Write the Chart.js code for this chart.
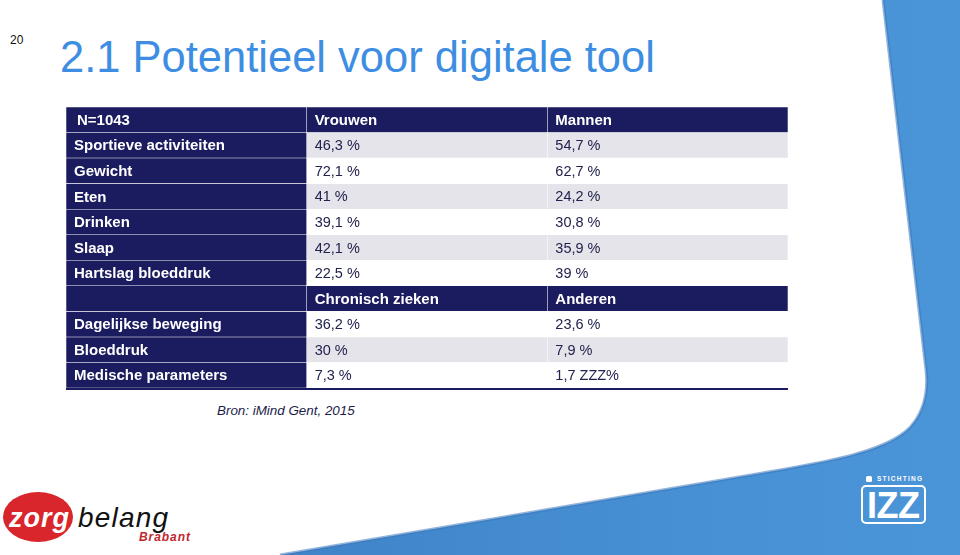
<!DOCTYPE html>
<html>
<head>
<meta charset="utf-8">
<script src="https://cdn.jsdelivr.net/npm/chart.js@4.4.1/dist/chart.umd.min.js"></script>
<style>
    html, body { margin: 0; padding: 0; }
    body {
        width: 960px;
        height: 555px;
        position: relative;
        overflow: hidden;
        background: #ffffff;
        font-family: "Liberation Sans", Arial, sans-serif;
    }
    #deco { position: absolute; left: 0; top: 0; }
    #pagenr {
        position: absolute; left: 10px; top: 33px;
        font-size: 12px; color: #111;
    }
    #title {
        position: absolute; left: 60px; top: 32px;
        font-size: 43.5px; line-height: 50px; color: #3d8ee2;
        white-space: nowrap;
    }
    #tableWrap { position: absolute; left: 66px; top: 107px; }
    #bron {
        position: absolute; left: 217px; top: 403px;
        font-size: 13.4px; font-style: italic; color: #1c1c4a;
    }
</style>
</head>
<body>
<svg id="deco" width="960" height="555">
    <defs>
        <linearGradient id="blueFill" x1="0" y1="0" x2="1" y2="0">
            <stop offset="0" stop-color="#3f83c8"/>
            <stop offset="0.6" stop-color="#4790d3"/>
            <stop offset="1" stop-color="#4a95d8"/>
        </linearGradient>
    </defs>
    <path d="M883,0 L960,0 L960,555 L280,555 L780,470 C830,461 880,452 905,432 C922,418 929,395 926,370 Z"
          fill="url(#blueFill)"/>
    <path d="M883,0 L926,370 C929,395 922,418 905,432 C880,452 830,461 780,470 L280,555"
          fill="none" stroke="#3a76bb" stroke-width="3" opacity="0.55"/>
    <!-- zorgbelang logo -->
    <ellipse cx="38" cy="517" rx="35" ry="25" fill="#d9252c"/>
    <text x="9" y="527" font-family="Liberation Sans" font-weight="bold" font-style="italic"
          font-size="27" fill="#ffffff" textLength="60">zorg</text>
    <text x="78" y="527" font-family="Liberation Sans" font-style="italic"
          font-size="28" fill="#111111" textLength="90">belang</text>
    <text x="139" y="541" font-family="Liberation Sans" font-weight="bold" font-style="italic"
          font-size="12" fill="#c2272d" textLength="51">Brabant</text>
    <!-- IZZ logo -->
    <rect x="866" y="476" width="6" height="6" rx="1.5" fill="#ffffff"/>
    <text x="877" y="481" font-family="Liberation Sans" font-weight="bold"
          font-size="6.5" fill="#ffffff" textLength="45">STICHTING</text>
    <rect x="862" y="486" width="63" height="37" rx="4" fill="none" stroke="#ffffff" stroke-width="2"/>
    <text x="867" y="518" font-family="Liberation Sans" font-weight="bold"
          font-size="36" fill="#ffffff" textLength="53">IZZ</text>
</svg>

<div id="pagenr">20</div>
<div id="title">2.1 Potentieel voor digitale tool</div>
<div id="tableWrap"><canvas id="tableChart" width="722" height="284"></canvas></div>
<div id="bron">Bron: iMind Gent, 2015</div>

<script>
const headerA = ["N=1043", "Vrouwen", "Mannen"];
const sectionA = ["Sportieve activiteiten", "Gewicht", "Eten", "Drinken", "Slaap", "Hartslag bloeddruk"];
const vrouwen = [46.3, 72.1, 41, 39.1, 42.1, 22.5];
const mannen = [54.7, 62.7, 24.2, 30.8, 35.9, 39];

const headerB = ["", "Chronisch zieken", "Anderen"];
const sectionB = ["Dagelijkse beweging", "Bloeddruk", "Medische parameters"];
const chronisch = [36.2, 30, 7.3];
const anderen = [23.6, 7.9, 1.7];
const anderenUnits = [" %", " %", " ZZZ%"];

const NAVY = "#1b1b5f";
const GREY = "#e4e4ea";
const TEXT = "#22224e";

const pct = (v, unit = " %") => String(v).replace(".", ",") + unit;

// build the rows of the table from the small arrays above
const rows = [];
rows.push({ cells: headerA, header: true });
sectionA.forEach((label, i) => {
    rows.push({ cells: [label, pct(vrouwen[i]), pct(mannen[i])], header: false });
});
rows.push({ cells: headerB, header: true });
sectionB.forEach((label, i) => {
    rows.push({ cells: [label, pct(chronisch[i]), pct(anderen[i], anderenUnits[i])], header: false });
});

const rowLabels = rows.map((r) => r.cells[0]);

function cellColor(row, rowIndex, col) {
    if (col === 0 || row.header) return NAVY;
    return rowIndex % 2 === 1 ? GREY : "#ffffff";
}

const datasets = [0, 1, 2].map((col) => ({
    data: rows.map(() => [col, col + 1]),
    backgroundColor: rows.map((r, i) => cellColor(r, i, col)),
    borderColor: rows.map((r, i) =>
        col === 0 || r.header ? "rgba(255,255,255,0.05)" : "rgba(0,0,0,0)"
    ),
    borderWidth: 0.6,
    borderSkipped: false,
    grouped: false,
    barPercentage: 1,
    categoryPercentage: 1,
}));

const cellText = {
    id: "cellText",
    afterDatasetsDraw(chart) {
        const { ctx, chartArea } = chart;
        const xs = chart.scales.x;
        const ys = chart.scales.y;
        ctx.save();
        ctx.textBaseline = "middle";
        rows.forEach((row, i) => {
            const y = ys.getPixelForValue(i) + 1;
            row.cells.forEach((txt, col) => {
                if (!txt) return;
                const bold = col === 0 || row.header;
                ctx.font = (bold ? "bold 15px " : "14.5px ") + "'Liberation Sans', Arial, sans-serif";
                ctx.fillStyle = bold ? "#ffffff" : TEXT;
                const pad = i === 0 && col === 0 ? 11 : 8;
                ctx.fillText(txt, xs.getPixelForValue(col) + pad, y);
            });
        });
        // bottom rule under the table
        ctx.strokeStyle = NAVY;
        ctx.lineWidth = 2;
        ctx.beginPath();
        ctx.moveTo(chartArea.left, chartArea.bottom + 1);
        ctx.lineTo(chartArea.right, chartArea.bottom + 1);
        ctx.stroke();
        ctx.restore();
    },
};

new Chart(document.getElementById("tableChart"), {
    type: "bar",
    data: { labels: rowLabels, datasets: datasets },
    options: {
        indexAxis: "y",
        responsive: false,
        animation: false,
        layout: { padding: { top: 0, bottom: 3, left: 0, right: 0 } },
        scales: {
            x: { type: "linear", min: 0, max: 3, display: false },
            y: { type: "category", offset: true, display: false },
        },
        plugins: {
            legend: { display: false },
            tooltip: { enabled: false },
        },
    },
    plugins: [cellText],
});
</script>
</body>
</html>
